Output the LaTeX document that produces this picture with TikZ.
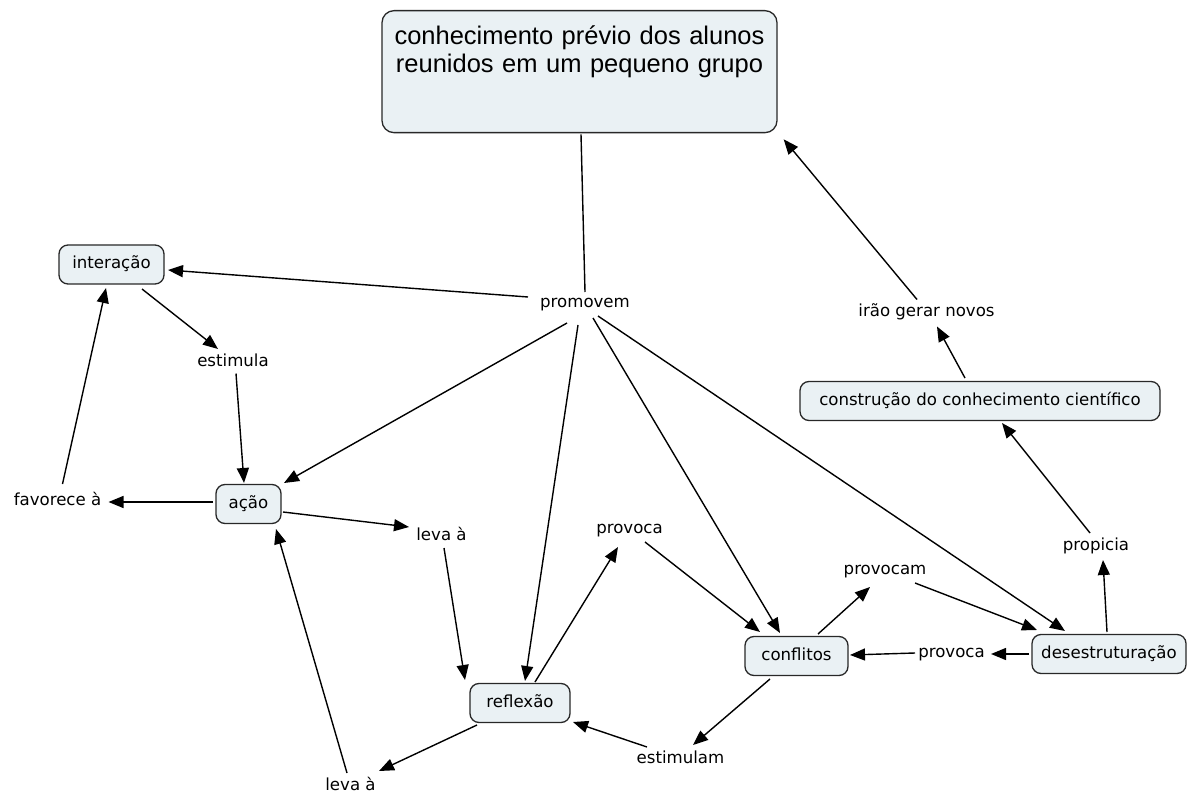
\documentclass[tikz,border=0pt]{standalone}
\usepackage{fontspec}
\setmainfont{DejaVu Sans}
\newfontfamily\titlefont{Liberation Sans}
\usetikzlibrary{arrows.meta,calc}
\definecolor{boxfill}{RGB}{234,241,244}
\definecolor{boxline}{RGB}{40,40,40}
\tikzset{
  cbox/.style={draw=boxline, line width=1.3pt, fill=boxfill, rounded corners=9pt,
    inner xsep=8pt, inner ysep=0pt, minimum height=39pt, text height=12pt, text depth=3.5pt,
    font=\fontsize{16.6}{19}\selectfont},
  lbl/.style={inner sep=0pt, anchor=base, font=\fontsize{16.6}{19}\selectfont},
  ln/.style={line width=1.4pt, draw=black},
  arr/.style={ln, -{Triangle[length=15pt,width=12pt]}}
}
\begin{document}
\begin{tikzpicture}[x=1pt,y=-1pt]
\path[use as bounding box, fill=white] (0,0) rectangle (1191,794);

% concept boxes
\node[draw=boxline, line width=1.3pt, fill=boxfill, rounded corners=12pt, anchor=north,
  minimum width=395pt, inner xsep=0pt, inner ysep=0pt, text height=34pt, text depth=88pt,
  text width=395pt, align=center, font=\titlefont\fontsize{25.5}{28}\selectfont]
  (title) at (579.5,10) {conhecimento prévio dos alunos\\reunidos em um pequeno grupo};
\node[cbox, minimum width=105pt] (interacao) at (111.5,264.5) {interação};
\node[cbox, minimum width=65pt] (acao) at (248.5,504) {ação};
\node[cbox, minimum width=100pt] (reflexao) at (520,703) {reflexão};
\node[cbox, minimum width=103pt] (conflitos) at (796.5,656) {conflitos};
\node[cbox, minimum width=154pt] (desestruturacao) at (1109,654) {desestruturação};
\node[cbox, minimum width=360pt] (construcao) at (980,401) {construção do conhecimento científico};

% linking phrases
\node[lbl] (promovem) at (585,307) {promovem};
\node[lbl] (estimula) at (233,366.5) {estimula};
\node[lbl] (favorece) at (57.5,505) {favorece à};
\node[lbl] (levaA) at (441.5,540) {leva à};
\node[lbl] (provocaA) at (629.5,533) {provoca};
\node[lbl] (provocam) at (885,574) {provocam};
\node[lbl] (provocaB) at (951.5,657) {provoca};
\node[lbl] (estimulam) at (680.5,763) {estimulam};
\node[lbl] (levaB) at (350.5,790.5) {leva à};
\node[lbl] (propicia) at (1096,550) {propicia};
\node[lbl] (irao) at (926.5,316.5) {irão gerar novos};

% connectors
\draw[ln] ($(title.south)+(1.5,1)$) -- ($(promovem.base)+(0,-15)$);
\draw[arr] ($(promovem.base)+(-57,-10)$) -- ($(interacao)+(56.5,5.5)$);
\draw[arr] ($(promovem.base)+(-18,16)$) -- ($(acao)+(35.5,-21)$);
\draw[arr] ($(promovem.base)+(-7,18)$) -- ($(reflexao)+(5,-22)$);
\draw[arr] ($(promovem.base)+(8,11)$) -- ($(conflitos)+(-16.5,-23)$);
\draw[arr] ($(promovem.base)+(13,9)$) -- ($(desestruturacao)+(-44,-23)$);
\draw[arr] ($(interacao)+(30.5,24.5)$) -- ($(estimula.base)+(-15,-17.5)$);
\draw[arr] ($(estimula.base)+(3,7)$) -- ($(acao)+(-4.5,-21)$);
\draw[arr] ($(acao)+(-35.5,-2)$) -- ($(favorece.base)+(51,-3)$);
\draw[arr] ($(favorece.base)+(5,-21)$) -- ($(interacao)+(-5.5,23.5)$);
\draw[arr] ($(acao)+(34.5,8)$) -- ($(levaA.base)+(-32.5,-13)$);
\draw[arr] ($(levaA.base)+(2.5,8)$) -- ($(reflexao)+(-55,-23)$);
\draw[arr] ($(reflexao)+(15,-21)$) -- ($(provocaA.base)+(-11.5,14)$);
\draw[arr] ($(provocaA.base)+(15.5,9)$) -- ($(conflitos)+(-36.5,-24)$);
\draw[arr] ($(conflitos)+(21.5,-22)$) -- ($(provocam.base)+(-15,13)$);
\draw[arr] ($(provocam.base)+(30,9)$) -- ($(desestruturacao)+(-72,-24)$);
\draw[arr] ($(desestruturacao)+(-80,0)$) -- ($(provocaB.base)+(39.5,-3)$);
\draw[arr] ($(provocaB.base)+(-36.5,-4)$) -- ($(conflitos)+(53.5,-1)$);
\draw[arr] ($(conflitos)+(-26.5,23)$) -- ($(estimulam.base)+(12.5,-18)$);
\draw[arr] ($(estimulam.base)+(-33.5,-16)$) -- ($(reflexao)+(53,19)$);
\draw[arr] ($(reflexao)+(-43,22)$) -- ($(levaB.base)+(28.5,-19.5)$);
\draw[arr] ($(levaB.base)+(-3.5,-17.5)$) -- ($(acao)+(27.5,25)$);
\draw[arr] ($(desestruturacao)+(-2,-22)$) -- ($(propicia.base)+(7,10)$);
\draw[arr] ($(propicia.base)+(-6,-17)$) -- ($(construcao)+(22,22)$);
\draw[arr] ($(construcao)+(-15,-23)$) -- ($(irao.base)+(10.5,10)$);
\draw[arr] ($(irao.base)+(-9.5,-17)$) -- ($(title.south east)+(6,6)$);
\end{tikzpicture}
\end{document}
